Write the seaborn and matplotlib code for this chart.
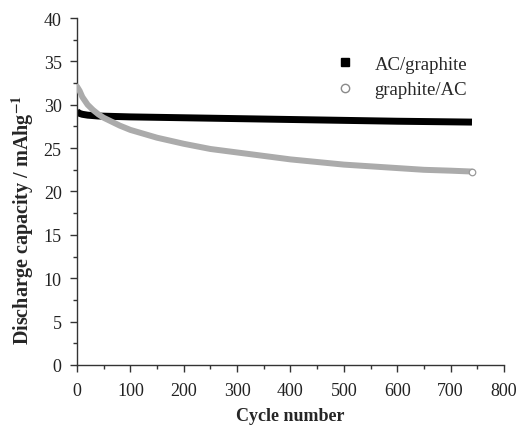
import numpy as np
import pandas as pd
import matplotlib.pyplot as plt
import seaborn as sns
from matplotlib.lines import Line2D
from matplotlib.ticker import MultipleLocator

# cycle number vs discharge capacity (mAh/g)
ac_graphite_cycles = [0, 5, 10, 20, 40, 100, 200, 300, 400, 500, 600, 740]
ac_graphite_cap = [29.2, 29.0, 28.9, 28.8, 28.7, 28.6, 28.5, 28.4, 28.3, 28.2, 28.1, 28.0]

graphite_ac_cycles = [0, 5, 10, 20, 30, 40, 50, 60, 80, 100, 150, 200, 250, 300,
                      350, 400, 450, 500, 550, 600, 650, 700, 740]
graphite_ac_cap = [32.1, 31.6, 30.9, 30.0, 29.4, 28.9, 28.5, 28.2, 27.6, 27.1, 26.2,
                   25.5, 24.9, 24.5, 24.1, 23.7, 23.4, 23.1, 22.9, 22.7, 22.5, 22.4, 22.3]

df_a = pd.DataFrame({'cycle': ac_graphite_cycles, 'cap': ac_graphite_cap})
df_g = pd.DataFrame({'cycle': graphite_ac_cycles, 'cap': graphite_ac_cap})

sns.set_style('ticks')
plt.rcParams['font.family'] = ['Liberation Serif', 'DejaVu Serif']
plt.rcParams['mathtext.fontset'] = 'stix'

fig = plt.figure(figsize=(5.18, 4.27), dpi=100)
ax = fig.add_axes([0.1486, 0.1429, 0.8244, 0.8126])

sns.lineplot(data=df_a, x='cycle', y='cap', ax=ax, color='black', linewidth=5.0,
             solid_capstyle='butt', zorder=2)
sns.lineplot(data=df_g, x='cycle', y='cap', ax=ax, color='#ababab', linewidth=4.3,
             solid_capstyle='round', zorder=3)
ax.scatter(graphite_ac_cycles[-1:], graphite_ac_cap[-1:], s=22, marker='o',
           facecolor='white', edgecolor='#9a9a9a', linewidth=0.9, zorder=4)

ax.set_xlim(0, 800)
ax.set_ylim(0, 40)
ax.xaxis.set_major_locator(MultipleLocator(100))
ax.xaxis.set_minor_locator(MultipleLocator(50))
ax.yaxis.set_major_locator(MultipleLocator(5))
ax.yaxis.set_minor_locator(MultipleLocator(2.5))
ax.tick_params(which='major', direction='out', length=5, width=1.0, labelsize=13,
               color='#333333', labelcolor='#222222')
ax.tick_params(axis='x', which='major', pad=7)
ax.tick_params(axis='y', which='major', pad=6)
ax.tick_params(which='minor', direction='out', length=3, width=1.0, color='#333333')
sns.despine(ax=ax)
for s in ['left', 'bottom']:
    ax.spines[s].set_color('#333333')
    ax.spines[s].set_linewidth(1.0)

ax.set_xlabel('Cycle number', fontsize=13, fontweight='bold', labelpad=6)
ax.set_ylabel(r'Discharge capacity / mAhg$^{\mathbf{-1}}$', fontsize=14.5,
              fontweight='bold')
ax.yaxis.set_label_coords(-0.097, 0.42)

handles = [
    Line2D([], [], linestyle='none', marker='s', markersize=6, markerfacecolor='black',
           markeredgecolor='black'),
    Line2D([], [], linestyle='none', marker='o', markersize=6, markerfacecolor='white',
           markeredgecolor='#8a8a8a'),
]
ax.legend(handles, ['AC/graphite', 'graphite/AC'], loc='upper left',
          bbox_to_anchor=(0.565, 0.94), frameon=False, fontsize=13.5,
          handletextpad=1.1, labelspacing=0.45, handlelength=1.0)

fig.savefig('out.png', dpi=100)
